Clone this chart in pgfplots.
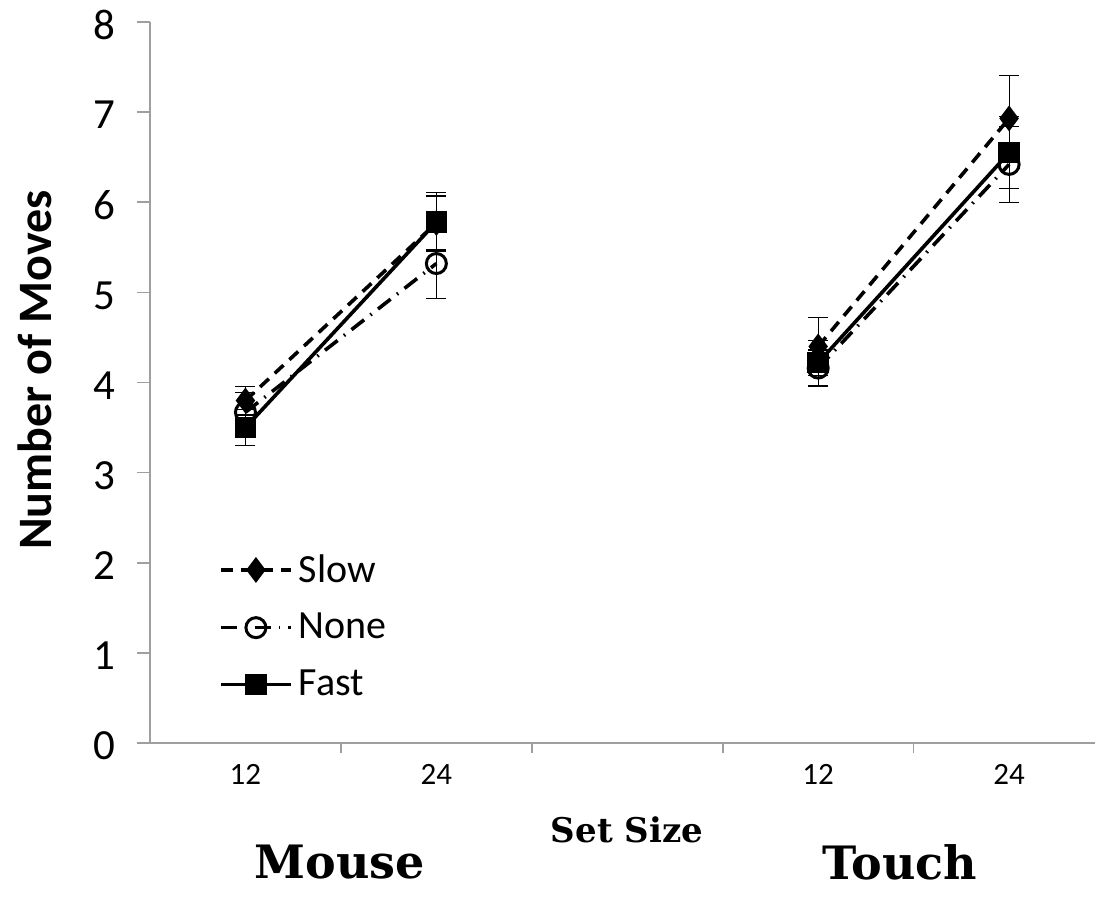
\documentclass[border=0pt]{standalone}
\usepackage{pgfplots}
\pgfplotsset{compat=1.18}
\usepackage{fontspec}
\setmainfont{Carlito}
\newfontfamily\serifb{DejaVu Serif}
\begin{document}
\begin{tikzpicture}[x=1pt,y=1pt]
\useasboundingbox (-75,-82) rectangle (472.5,371.5);
\begin{axis}[
  at={(0,0)}, anchor=south west,
  width=472.5pt, height=360.5pt, scale only axis,
  xmin=-0.5, xmax=4.45, ymin=0, ymax=8,
  axis lines*=left,
  axis line style={gray!75, line width=0.8pt},
  every tick/.style={gray!75, line width=0.8pt},
  tick align=outside,
  major tick length=5pt,
  y tick style={/pgfplots/major tick length=6.5pt},
  ytick={0,1,...,8},
  xtick={0.5,1.5,2.5,3.5},
  xticklabels={},
  extra x ticks={0,1,3,4},
  extra x tick labels={12,24,12,24},
  extra x tick style={major tick length=0pt, tick label style={yshift=-7pt}},
  x tick label style={font=\fontsize{15.5}{18}\selectfont},
  y tick label style={font=\fontsize{21.5}{25}\selectfont, xshift=-9pt, yshift=-1.5pt},
  /pgf/number format/assume math mode=true,
  clip=false,
  legend cell align=left,
  legend style={draw=none, fill=none, at={(axis cs:-0.14,2.14)}, anchor=north west,
    font=\fontsize{20}{24}\selectfont, row sep=10pt, inner sep=0pt,
    /tikz/every odd column/.append style={column sep=1pt}},
  legend image code/.code={\draw[mark repeat=2,mark phase=2] plot coordinates {(0pt,0pt)(17.5pt,0pt)(35pt,0pt)};},
  error bars/y dir=both, error bars/y explicit,
  error bars/error bar style={line width=0.6pt, solid, black},
  error bars/error mark options={rotate=90, mark size=5pt, line width=0.6pt, black},
]
\addplot[black, line width=1.8pt, dash pattern=on 6pt off 4pt, mark=diamond*, mark size=5pt, mark options={solid, fill=black}]
  coordinates {(0,3.8) +- (0,0.16) (1,5.77) +- (0,0.3)};
\addlegendentry{Slow}
\addplot[black, line width=1.8pt, dash pattern=on 8pt off 4pt on 0.8pt off 4pt, mark=o, mark size=5pt, mark options={solid, fill=white, line width=1.5pt}]
  coordinates {(0,3.67) +- (0,0.22) (1,5.32) +- (0,0.39)};
\addlegendentry{None}
\addplot[black, line width=1.8pt, mark=square*, mark size=4.5pt, mark options={solid, fill=black}]
  coordinates {(0,3.5) +- (0,0.2) (1,5.78) +- (0,0.33)};
\addlegendentry{Fast}
\addplot[black, line width=1.8pt, dash pattern=on 6pt off 4pt, mark=diamond*, mark size=5pt, mark options={solid, fill=black}, forget plot]
  coordinates {(3,4.4) +- (0,0.32) (4,6.93) +- (0,0.48)};
\addplot[black, line width=1.8pt, dash pattern=on 8pt off 4pt on 0.8pt off 4pt, mark=o, mark size=5pt, mark options={solid, fill=white, line width=1.5pt}, forget plot]
  coordinates {(3,4.16) +- (0,0.2) (4,6.42) +- (0,0.42)};
\addplot[black, line width=1.8pt, mark=square*, mark size=4.5pt, mark options={solid, fill=black}, forget plot]
  coordinates {(3,4.22) +- (0,0.25) (4,6.55) +- (0,0.4)};
\end{axis}
\node[rotate=90, font=\fontsize{24}{28}\selectfont\bfseries] at (-57.5,186.5) {Number of Moves};
\node[font=\fontsize{17}{20}\selectfont\serifb\bfseries] at (238.5,-43.5) {Set Size};
\node[font=\fontsize{23}{27}\selectfont\serifb\bfseries] at (95,-59.5) {Mouse};
\node[font=\fontsize{23}{27}\selectfont\serifb\bfseries] at (375,-59.5) {Touch};
\end{tikzpicture}
\end{document}
